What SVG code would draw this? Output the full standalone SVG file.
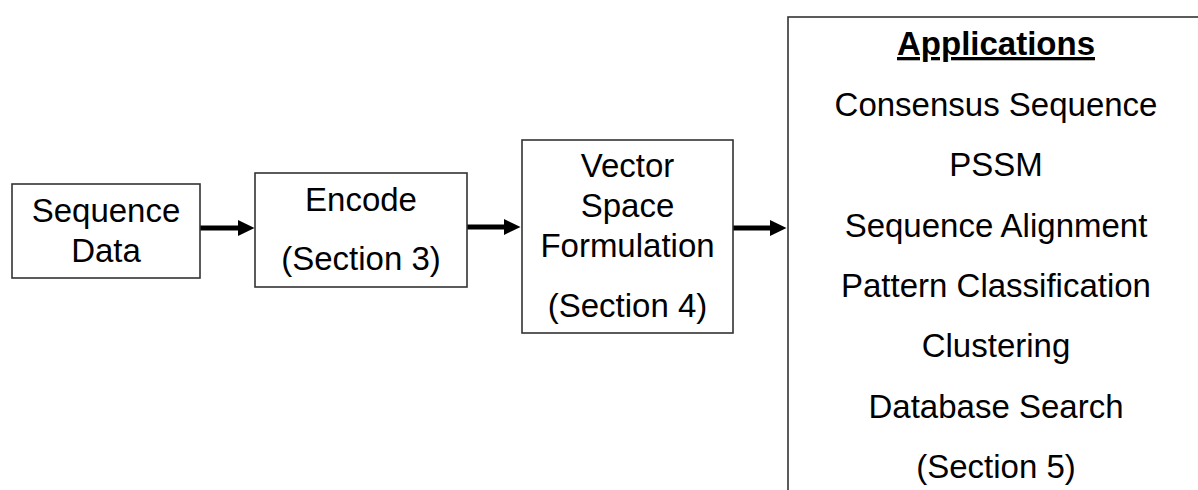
<svg xmlns="http://www.w3.org/2000/svg" width="1198" height="490" viewBox="0 0 1198 490">
<style>
.box{fill:#fff;stroke:#333;stroke-width:1.6}
.t{font-family:"Liberation Sans",Arial,sans-serif;font-size:33px;fill:#000;text-anchor:middle}
.b{font-weight:bold;text-decoration:underline}
.c{stroke:#000;stroke-width:5;fill:none}
</style>
<defs>
<marker id="ah" markerWidth="4" markerHeight="4" refX="0" refY="2" orient="auto" markerUnits="strokeWidth">
<path d="M0,0.4 L3.3,2 L0,3.6 z" fill="#000"/>
</marker>
</defs>
<rect width="1198" height="490" fill="#fff"/>
<g id="connectors">
<line class="c" x1="200" y1="228" x2="238" y2="228" marker-end="url(#ah)"/>
<line class="c" x1="467" y1="227" x2="504" y2="227" marker-end="url(#ah)"/>
<line class="c" x1="733" y1="228" x2="770" y2="228" marker-end="url(#ah)"/>
</g>
<g id="sequence-data">
<rect class="box" x="12" y="184" width="188" height="94"/>
<text class="t" x="106" y="222">Sequence</text>
<text class="t" x="106" y="262">Data</text>
</g>
<g id="encode">
<rect class="box" x="255" y="173" width="212" height="114"/>
<text class="t" x="361" y="211">Encode</text>
<text class="t" x="361" y="270">(Section 3)</text>
</g>
<g id="vector-space">
<rect class="box" x="522" y="140" width="211" height="193"/>
<text class="t" x="627.5" y="177">Vector</text>
<text class="t" x="627.5" y="217">Space</text>
<text class="t" x="627.5" y="257">Formulation</text>
<text class="t" x="627.5" y="317">(Section 4)</text>
</g>
<g id="applications">
<rect class="box" x="788" y="17" width="420" height="500"/>
<text class="t b" x="996" y="55">Applications</text>
<text class="t" x="996" y="116">Consensus Sequence</text>
<text class="t" x="996" y="176">PSSM</text>
<text class="t" x="996" y="237">Sequence Alignment</text>
<text class="t" x="996" y="297">Pattern Classification</text>
<text class="t" x="996" y="357">Clustering</text>
<text class="t" x="996" y="418">Database Search</text>
<text class="t" x="996" y="478">(Section 5)</text>
</g>
</svg>
